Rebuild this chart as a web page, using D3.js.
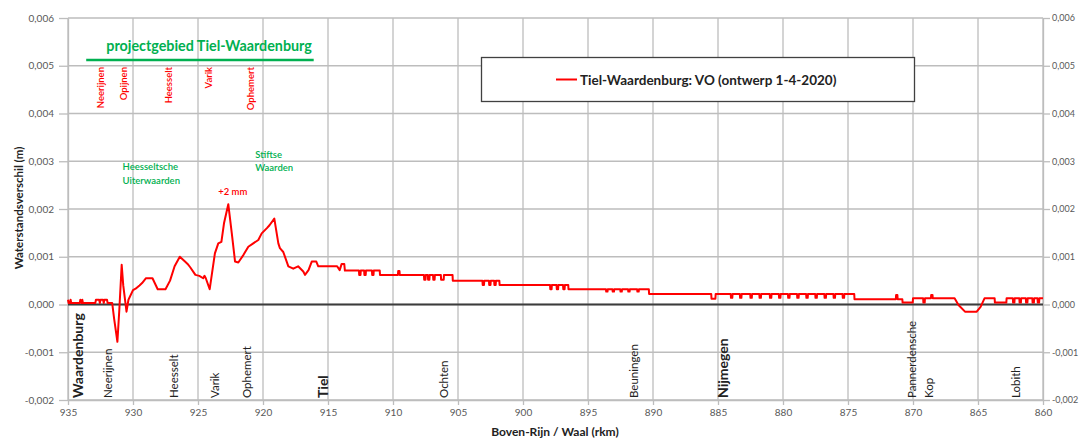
<!DOCTYPE html>
<html><head><meta charset="utf-8">
<script src="https://cdn.jsdelivr.net/npm/d3@7"></script>
<style>
html,body{margin:0;padding:0;background:#fff;}
svg{display:block;font-family:Lato,"Open Sans",sans-serif;}
</style></head>
<body>
<svg id="c" width="1080" height="439"></svg>
<script>
// ---- data ----
const km = [
935.0,934.95,934.85,934.8,934.75,934.1,934.05,933.95,933.9,933.85,932.9,932.85,932.6,932.55,932.5,932.3,932.25,932.2,932.0,931.95,
931.6,931.45,931.2,931.05,930.87,930.75,930.5,930.35,930.0,929.8,929.5,929.3,929.0,928.5,928.1,927.5,927.15,926.8,926.4,926.0,
925.8,925.6,925.2,924.9,924.6,924.5,924.4,924.1,923.7,923.44,923.2,923.0,922.67,922.4,922.15,921.9,921.5,921.13,920.75,920.36,
920.1,919.7,919.5,919.13,918.82,918.7,918.44,918.05,917.67,917.3,916.9,916.77,916.5,916.25,915.9,915.75,914.3,914.1,913.95,913.75,913.7,
912.62,912.6,912.5,912.48, 912.22,912.2,912.1,912.08, 911.62,911.6,911.5,911.48, 911.02,911.0,
909.62,909.6,909.5,909.48, 907.62,907.6,907.5,907.48, 907.32,907.3,907.2,907.18, 906.92,906.9,906.8,906.78, 906.32,906.3,906.1,906.08,
905.42,905.4, 903.12,903.1,903.0,902.98, 902.62,902.6,902.5,902.48, 902.22,902.2,902.1,902.08, 901.82,901.8,
897.92,897.9,897.8,897.78, 897.42,897.4,897.3,897.28, 896.92,896.9,896.8,896.78, 896.52,896.5,
893.62,893.6,893.5,893.48, 893.12,893.1,893.0,892.98, 892.52,892.5,892.4,892.38, 891.92,891.9,891.8,891.78, 891.22,891.2,891.1,891.08,
890.32,890.3, 885.52,885.5,885.2,885.18,
884.02,884.0,883.9,883.88, 883.32,883.3,883.2,883.18, 882.52,882.5,882.4,882.38, 881.82,881.8,881.7,881.68, 881.02,881.0,880.9,880.88,
880.32,880.3,880.2,880.18, 879.62,879.6,879.5,879.48, 878.92,878.9,878.8,878.78, 878.22,878.2,878.1,878.08, 877.52,877.5,877.4,877.38,
876.82,876.8,876.7,876.68, 876.12,876.1,876.0,875.98, 875.42,875.4,875.3,875.28,
874.52,874.5, 871.32,871.3,871.2,871.18, 870.82,870.8,870.02,870.0, 869.22,869.2,869.1,869.08, 868.62,868.6,868.5,868.48,
866.8,866.5,866.0,865.1,864.8,864.5, 863.72,863.7,862.82,862.8,
862.32,862.3,862.2,862.18, 861.82,861.8,861.7,861.68, 861.32,861.3,861.2,861.18, 860.82,860.8,860.7,860.68, 860.42,860.4,860.3,860.28, 860.0];
const dh = [
0.0001,0.00003,0.00003,0.0001,0.00003,0.00003,0.0001,0.00003,0.0001,0.00003,0.00003,0.0001,0.0001,0.00003,0.0001,0.0001,0.00003,0.0001,0.0001,0.00003,
0.00003,-0.0003,-0.00078,-0.0001,0.00083,0.0004,-0.00015,0.0001,0.0003,0.00033,0.0004,0.00045,0.00055,0.00055,0.00032,0.00032,0.0005,0.0008,0.001,0.0009,
0.00085,0.00078,0.00062,0.0006,0.00055,0.0006,0.00055,0.00032,0.00107,0.00128,0.00131,0.0017,0.0021,0.00149,0.0009,0.00088,0.00104,0.00121,0.00128,0.00135,
0.00149,0.0016,0.00166,0.0018,0.00128,0.00118,0.0011,0.0008,0.00075,0.0008,0.00069,0.00062,0.00072,0.0009,0.0009,0.0008,0.0008,0.00072,0.00085,0.00085,0.00071,
0.00071,0.00062,0.00062,0.00071, 0.00071,0.00062,0.00062,0.00071, 0.00071,0.00062,0.00062,0.00071, 0.00071,0.00062,
0.00062,0.0007,0.0007,0.00062, 0.00062,0.00052,0.00052,0.00062, 0.00062,0.00052,0.00052,0.00062, 0.00062,0.00052,0.00052,0.00062, 0.00062,0.00052,0.00052,0.00062,
0.00062,0.0005, 0.0005,0.00041,0.00041,0.0005, 0.0005,0.00041,0.00041,0.0005, 0.0005,0.00041,0.00041,0.0005, 0.0005,0.00041,
0.00041,0.00032,0.00032,0.00041, 0.00041,0.00032,0.00032,0.00041, 0.00041,0.00032,0.00032,0.00041, 0.00041,0.00032,
0.00032,0.00027,0.00027,0.00032, 0.00032,0.00027,0.00027,0.00032, 0.00032,0.00027,0.00027,0.00032, 0.00032,0.00027,0.00027,0.00032, 0.00032,0.00027,0.00027,0.00032,
0.00032,0.00022, 0.00022,0.00012,0.00012,0.00022,
0.00022,0.00014,0.00014,0.00022, 0.00022,0.00014,0.00014,0.00022, 0.00022,0.00014,0.00014,0.00022, 0.00022,0.00014,0.00014,0.00022, 0.00022,0.00014,0.00014,0.00022,
0.00022,0.00014,0.00014,0.00022, 0.00022,0.00014,0.00014,0.00022, 0.00022,0.00014,0.00014,0.00022, 0.00022,0.00014,0.00014,0.00022, 0.00022,0.00014,0.00014,0.00022,
0.00022,0.00014,0.00014,0.00022, 0.00022,0.00014,0.00014,0.00022, 0.00022,0.00014,0.00014,0.00022,
0.00022,0.00011, 0.00011,0.0002,0.0002,0.00011, 0.00011,0.00004,0.00004,0.00013, 0.00013,0.00004,0.00004,0.00013, 0.00013,0.0002,0.0002,0.00013,
0.00013,-0.00001,-0.00015,-0.00015,-0.00005,0.00013, 0.00013,0.00004,0.00004,0.00013,
0.00013,0.00004,0.00004,0.00013, 0.00013,0.00004,0.00004,0.00013, 0.00013,0.00004,0.00004,0.00013, 0.00013,0.00004,0.00004,0.00013, 0.00013,0.00004,0.00004,0.00013, 0.00013];

const xTicks = [935,930,925,920,915,910,905,900,895,890,885,880,875,870,865,860];
const yTicks = [-0.002,-0.001,0,0.001,0.002,0.003,0.004,0.005,0.006];

const placeNames = ["Waardenburg","Neerijnen","Heesselt","Varik","Ophemert","Tiel","Ochten","Beuningen","Nijmegen","Pannerdensche","Kop","Lobith"];
const placeKm =    [934.3,932.0,926.85,923.75,921.3,915.45,906.1,891.5,884.65,870.1,868.8,862.15];
const placeBold =  [true,false,false,false,false,true,false,false,true,false,false,false];

const topNames = ["Neerijnen","Opijnen","Heesselt","Varik","Ophemert"];
const topKm =    [932.5,930.7,927.3,924.2,921.0];

const seriesName = "Tiel-Waardenburg: VO (ontwerp 1-4-2020)";

// ---- chart ----
const svg = d3.select("#c");
const L = 68, R = 1043, T = 18, B = 400;
const x = d3.scaleLinear().domain([935,860]).range([L,R]);
const y = d3.scaleLinear().domain([-0.002,0.006]).range([B,T]);
const fmt = v => d3.format(".3f")(v).replace(".",",").replace("\u2212","-");
const grid = "#bdbdbd", tickCol = "#595959";

// gridlines
svg.append("g").selectAll("line").data(yTicks).join("line")
  .attr("x1",L).attr("x2",R).attr("y1",d=>y(d)).attr("y2",d=>y(d))
  .attr("stroke",grid).attr("stroke-width",1.3);
svg.append("g").selectAll("line").data(xTicks).join("line")
  .attr("y1",T).attr("y2",B).attr("x1",d=>x(d)).attr("x2",d=>x(d))
  .attr("stroke",grid).attr("stroke-width",1.3);

// axes
const styleAxis = (size) => g => {
  g.selectAll(".domain").attr("stroke",grid).attr("stroke-width",1.3);
  g.selectAll(".tick line").attr("stroke",grid).attr("stroke-width",1.3);
  g.selectAll(".tick text").attr("fill",tickCol).attr("font-size",size).attr("font-family","Lato, sans-serif");
};
svg.append("g").attr("transform",`translate(${L},0)`)
  .call(d3.axisLeft(y).tickValues(yTicks).tickFormat(fmt).tickSize(9).tickPadding(5).tickSizeOuter(0)).call(styleAxis("10px"));
svg.append("g").attr("transform",`translate(${R},0)`)
  .call(d3.axisRight(y).tickValues(yTicks).tickFormat(fmt).tickSize(7).tickPadding(2).tickSizeOuter(0)).call(styleAxis("9px"));
svg.append("g").attr("transform",`translate(0,${B})`)
  .call(d3.axisBottom(x).tickValues(xTicks).tickFormat(d3.format("d")).tickSize(5).tickPadding(4).tickSizeOuter(0)).call(styleAxis("10px"));

// zero line
svg.append("line").attr("x1",L).attr("x2",R).attr("y1",y(0)).attr("y2",y(0))
  .attr("stroke","#3c3c3c").attr("stroke-width",2.2);

// axis titles
svg.append("text").attr("transform",`translate(18,${208}) rotate(-90)`)
  .attr("text-anchor","middle").attr("dominant-baseline","central")
  .attr("font-size","11.5px").attr("font-weight","bold").attr("fill","#222")
  .text("Waterstandsverschil (m)");
svg.append("text").attr("x",555).attr("y",436)
  .attr("text-anchor","middle").attr("font-size","12px").attr("font-weight","bold").attr("fill","#222")
  .text("Boven-Rijn / Waal (rkm)");

// place labels along bottom
svg.append("g").selectAll("text").data(placeNames).join("text")
  .attr("transform",(d,i)=>`translate(${x(placeKm[i])},${B-2}) rotate(-90)`)
  .attr("dominant-baseline","central")
  .attr("font-size",(d,i)=>placeBold[i]?"14px":"11.5px")
  .attr("font-weight",(d,i)=>placeBold[i]?"bold":"normal")
  .attr("fill","#222").text(d=>d);

// project area title and line
svg.append("text").attr("x",x(932.05)).attr("y",51).attr("font-size","14.3px").attr("font-weight","bold")
  .attr("fill","#00b050").text("projectgebied Tiel-Waardenburg");
svg.append("line").attr("x1",x(933.6)).attr("x2",x(916.1)).attr("y1",60).attr("y2",60)
  .attr("stroke","#00b050").attr("stroke-width",2.5);

// top red labels
svg.append("g").selectAll("text").data(topNames).join("text")
  .attr("transform",(d,i)=>`translate(${x(topKm[i])},67) rotate(-90)`)
  .attr("dominant-baseline","central").attr("text-anchor","end")
  .attr("font-size","9.5px").attr("font-weight","600").attr("fill","#ff0000").text(d=>d);

// green area labels
const gl = svg.append("g").attr("font-size","9.5px").attr("font-weight","600").attr("fill","#00b050");
gl.append("text").attr("x",x(930.8)).attr("y",170).text("Heesseltsche");
gl.append("text").attr("x",x(930.8)).attr("y",184).text("Uiterwaarden");
gl.append("text").attr("x",x(920.6)).attr("y",158).text("Stiftse");
gl.append("text").attr("x",x(920.6)).attr("y",171).text("Waarden");
svg.append("text").attr("x",x(923.45)).attr("y",195).attr("font-size","9.5px").attr("font-weight","600")
  .attr("fill","#ff0000").text("+2 mm");

// data line
const pts = km.map((k,i)=>[k,dh[i]]);
svg.append("path").datum(pts)
  .attr("fill","none").attr("stroke","#ff0000").attr("stroke-width",2).attr("stroke-linejoin","round")
  .attr("d",d3.line().x(d=>x(d[0])).y(d=>y(d[1])));

// legend
const lg = svg.append("g");
lg.append("rect").attr("x",481.5).attr("y",57.5).attr("width",433).attr("height",44)
  .attr("fill","#fff").attr("stroke","#404040").attr("stroke-width",1.3);
lg.append("line").attr("x1",556).attr("x2",577).attr("y1",79.5).attr("y2",79.5)
  .attr("stroke","#ff0000").attr("stroke-width",2);
lg.append("text").attr("x",580).attr("y",79.5).attr("dominant-baseline","central")
  .attr("font-size","13.5px").attr("font-weight","bold").attr("fill","#222").text(seriesName);
</script>
</body></html>
